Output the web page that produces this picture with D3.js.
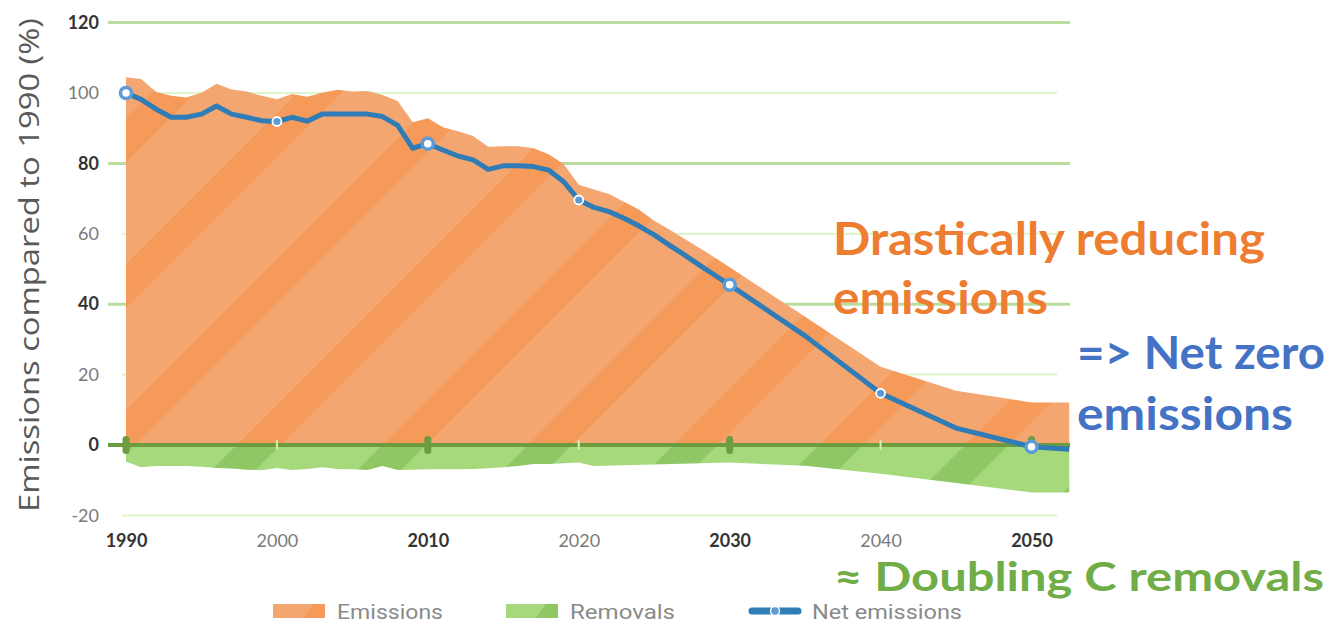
<!DOCTYPE html>
<html>
<head>
<meta charset="utf-8">
<script src="https://cdn.jsdelivr.net/npm/d3@7"></script>
<style>
  body { margin: 0; background: #fff; }
  svg { display: block; }
</style>
</head>
<body>
<svg id="chart"></svg>
<script>
// values (% of 1990 level)
const emissionsYears = [1990, 1991, 1992, 1993, 1994, 1995, 1996, 1997, 1998, 1999, 2000, 2001, 2002, 2003, 2004, 2005, 2006, 2007, 2008, 2009, 2010, 2011, 2012, 2013, 2014, 2015, 2016, 2017, 2018, 2019, 2020, 2021, 2022, 2023, 2024, 2025, 2026, 2027, 2028, 2029, 2030, 2035, 2040, 2045, 2050, 2052.5];
const emissions = [104.5, 104, 100.3, 99.2, 98.7, 100.1, 102.6, 101, 100.4, 99.2, 98.2, 99.7, 98.9, 100.1, 100.9, 100.4, 100.6, 99.4, 97.7, 91.7, 92.8, 90.3, 89.1, 87.8, 84.7, 84.9, 84.9, 84.3, 82.6, 79.8, 73.9, 72.6, 71.3, 69.1, 66.8, 63.7, 61.2, 58.6, 56, 53.3, 50.5, 36.4, 22.2, 15.4, 12.1, 12.1];

const removalsYears = [1990, 1991, 1992, 1993, 1994, 1995, 1996, 1997, 1998, 1999, 2000, 2001, 2002, 2003, 2004, 2005, 2006, 2007, 2008, 2009, 2010, 2011, 2012, 2013, 2014, 2015, 2016, 2017, 2018, 2019, 2020, 2021, 2030, 2035, 2040, 2045, 2050, 2052.5];
const removals = [-4.7, -6.3, -6.0, -6.0, -6.0, -6.2, -6.5, -6.7, -7.0, -7.2, -6.5, -7.1, -6.8, -6.3, -6.8, -6.9, -7.1, -6.0, -7.1, -7.0, -6.9, -6.9, -6.9, -6.8, -6.6, -6.3, -6.0, -5.4, -5.4, -5.2, -5.0, -6.0, -5.0, -5.9, -8.2, -10.8, -13.5, -13.5];

const netYears = [1990, 1991, 1992, 1993, 1994, 1995, 1996, 1997, 1998, 1999, 2000, 2001, 2002, 2003, 2004, 2005, 2006, 2007, 2008, 2009, 2010, 2011, 2012, 2013, 2014, 2015, 2016, 2017, 2018, 2019, 2020, 2021, 2022, 2023, 2024, 2025, 2026, 2027, 2028, 2029, 2030, 2035, 2040, 2045, 2050, 2052.5];
const net = [100, 98.2, 95.4, 93.1, 93.1, 94, 96.3, 94, 93.1, 92.1, 91.9, 93.1, 92, 94, 94, 94, 94, 93.3, 90.8, 84.3, 85.6, 83.8, 82.1, 81, 78.3, 79.3, 79.3, 79.1, 78.1, 74.8, 69.6, 67.5, 66.3, 64.4, 62.2, 59.7, 56.8, 54, 51.1, 48.3, 45.5, 31, 14.7, 4.8, -0.5, -1.2];

const markerYears = [1990, 2000, 2010, 2020, 2030, 2040, 2050];
const bigMarkerYears = [1990, 2010, 2030, 2050];

const yTicks = [120, 100, 80, 60, 40, 20, 0, -20];
const yBoldTicks = [120, 80, 40, 0];
const xTicks = [1990, 2000, 2010, 2020, 2030, 2040, 2050];
const xBoldTicks = [1990, 2010, 2030, 2050];

const legendLabels = ['Emissions', 'Removals', 'Net emissions'];

const width = 1329;
const height = 624;

const svg = d3.select('#chart').attr('width', width).attr('height', height);

const x = d3.scaleLinear().domain([1990, 2050]).range([126, 1031.5]);
const y = d3.scaleLinear().domain([0, 120]).range([445, 22.6]);

const zip = (ys, vs) => ys.map((yr, i) => ({ year: yr, v: vs[i] }));
const emData = zip(emissionsYears, emissions);
const remData = zip(removalsYears, removals);
const netData = zip(netYears, net);

// diagonal stripe patterns
const defs = svg.append('defs');
const stripe = (id, light, dark) => {
    const p = defs.append('pattern')
        .attr('id', id)
        .attr('patternUnits', 'userSpaceOnUse')
        .attr('width', 103)
        .attr('height', 103)
        .attr('patternTransform', 'rotate(45)');
    p.append('rect').attr('width', 103).attr('height', 103).attr('fill', light);
    p.append('rect').attr('x', 70).attr('width', 31).attr('height', 103).attr('fill', dark);
};
stripe('stripeOrange', '#f3a670', '#f59a58');
stripe('stripeGreen', '#a6d97c', '#8ec764');

// grid
const gridX0 = (v) => (yBoldTicks.includes(v) ? 108 : 122);
const gridX1 = (v) => (yBoldTicks.includes(v) ? 1070 : 1057);
svg.append('g')
    .selectAll('line')
    .data(yTicks.filter((v) => v !== 0))
    .join('line')
    .attr('x1', gridX0)
    .attr('x2', gridX1)
    .attr('y1', (d) => y(d))
    .attr('y2', (d) => y(d))
    .attr('stroke', (d) => (yBoldTicks.includes(d) ? '#b9dc9f' : '#ddf5c9'))
    .attr('stroke-width', (d) => (yBoldTicks.includes(d) ? 3 : 2));

// areas
const area = d3.area()
    .x((d) => x(d.year))
    .y0(y(0))
    .y1((d) => y(d.v));

svg.append('path').datum(emData).attr('d', area).attr('fill', 'url(#stripeOrange)');
svg.append('path').datum(remData).attr('d', area).attr('fill', 'url(#stripeGreen)');

// zero line and ticks
svg.append('line')
    .attr('x1', 108).attr('x2', 1070)
    .attr('y1', y(0)).attr('y2', y(0))
    .attr('stroke', '#6d9b40').attr('stroke-width', 4);

svg.append('g')
    .selectAll('rect')
    .data(xTicks)
    .join('rect')
    .attr('x', (d) => x(d) - (xBoldTicks.includes(d) ? 3.5 : 1))
    .attr('y', (d) => y(0) - (xBoldTicks.includes(d) ? 9 : 5))
    .attr('width', (d) => (xBoldTicks.includes(d) ? 7 : 2))
    .attr('height', (d) => (xBoldTicks.includes(d) ? 18 : 10))
    .attr('rx', (d) => (xBoldTicks.includes(d) ? 3.5 : 1))
    .attr('fill', (d) => (xBoldTicks.includes(d) ? '#6d9b40' : '#d2f0b0'));

// net emissions line
const line = d3.line().x((d) => x(d.year)).y((d) => y(d.v));
svg.append('path')
    .datum(netData)
    .attr('d', line)
    .attr('fill', 'none')
    .attr('stroke', '#2f7cb7')
    .attr('stroke-width', 5)
    .attr('stroke-linejoin', 'round');

const netAt = (yr) => netData.find((d) => d.year === yr).v;
svg.append('g')
    .selectAll('circle')
    .data(markerYears)
    .join('circle')
    .attr('cx', (d) => x(d))
    .attr('cy', (d) => y(netAt(d)))
    .attr('r', (d) => (bigMarkerYears.includes(d) ? 5.5 : 4.5))
    .attr('fill', (d) => (bigMarkerYears.includes(d) ? '#fff' : '#5b9bd8'))
    .attr('stroke', (d) => (bigMarkerYears.includes(d) ? '#5b9bd8' : '#fff'))
    .attr('stroke-width', (d) => (bigMarkerYears.includes(d) ? 3.5 : 1.8));

// axes
const yAxis = svg.append('g')
    .attr('transform', 'translate(99,0)')
    .call(d3.axisLeft(y).tickValues(yTicks).tickSize(0).tickPadding(0).tickFormat((d) => String(d)));
yAxis.select('.domain').remove();
yAxis.selectAll('text')
    .attr('font-family', 'Lato, sans-serif')
    .attr('font-size', 18)
    .attr('font-weight', (d) => (yBoldTicks.includes(d) ? 700 : 400))
    .attr('fill', (d) => (yBoldTicks.includes(d) ? '#333' : '#7a7a7a'));

const xAxis = svg.append('g')
    .attr('transform', 'translate(0,534)')
    .call(d3.axisBottom(x).tickValues(xTicks).tickSize(0).tickPadding(0).tickFormat((d) => String(d)));
xAxis.select('.domain').remove();
xAxis.selectAll('text')
    .attr('font-family', 'Lato, sans-serif')
    .attr('font-size', 18)
    .attr('font-weight', (d) => (xBoldTicks.includes(d) ? 700 : 400))
    .attr('fill', (d) => (xBoldTicks.includes(d) ? '#333' : '#7a7a7a'));

svg.append('text')
    .attr('transform', 'translate(39,265) rotate(-90)')
    .attr('text-anchor', 'middle')
    .attr('font-family', 'Open Sans, sans-serif')
    .attr('font-size', 28)
    .attr('fill', '#595959')
    .attr('textLength', 494)
    .attr('lengthAdjust', 'spacingAndGlyphs')
    .text('Emissions compared to 1990 (%)');

// legend
const lg = svg.append('g');
const swatch = (x0, light, dark) => {
    lg.append('rect').attr('x', x0).attr('y', 604).attr('width', 52).attr('height', 14).attr('fill', light);
    lg.append('path')
        .attr('d', `M${x0 + 30},618 L${x0 + 40},604 L${x0 + 52},604 L${x0 + 52},618 Z`)
        .attr('fill', dark);
};
swatch(273, '#f3a670', '#f59a58');
swatch(506, '#a6d97c', '#8ec764');
lg.append('line')
    .attr('x1', 752).attr('x2', 798).attr('y1', 611).attr('y2', 611)
    .attr('stroke', '#2f7cb7').attr('stroke-width', 7).attr('stroke-linecap', 'round');
lg.append('circle').attr('cx', 775).attr('cy', 611).attr('r', 4.5)
    .attr('fill', '#5b9bd8').attr('stroke', '#fff').attr('stroke-width', 1.5);

const legendX = [337, 570, 812];
const legendW = [106, 105, 150];
lg.selectAll('text')
    .data(legendLabels)
    .join('text')
    .attr('x', (d, i) => legendX[i])
    .attr('y', 618.5)
    .attr('font-family', 'Roboto, sans-serif')
    .attr('font-size', 20)
    .attr('fill', '#8a8a8a')
    .attr('textLength', (d, i) => legendW[i])
    .attr('lengthAdjust', 'spacingAndGlyphs')
    .text((d) => d);

// annotations
const note = (txt, x0, y0, w, color, size) => {
    svg.append('text')
        .attr('x', x0).attr('y', y0)
        .attr('font-family', 'Lato, sans-serif')
        .attr('font-weight', 700)
        .attr('font-size', size)
        .attr('fill', color)
        .attr('textLength', w)
        .attr('lengthAdjust', 'spacingAndGlyphs')
        .text(txt);
};
note('Drastically reducing', 833, 255, 432, '#ed7d31', 45);
note('emissions', 833, 314, 215, '#ed7d31', 45);
note('=> Net zero', 1077, 369, 248, '#4472c4', 45);
note('emissions', 1077, 430, 216, '#4472c4', 45);
note('\u2248 Doubling C removals', 834, 591, 490, '#70ad47', 40);
</script>
</body>
</html>
